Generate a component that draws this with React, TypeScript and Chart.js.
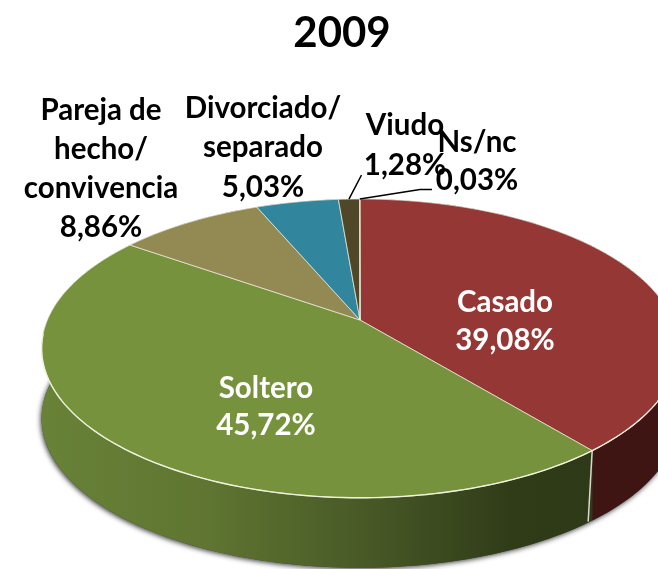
import React, { useEffect, useRef } from "react";
import { Chart, registerables } from "chart.js";

Chart.register(...registerables);

const categories = ["Casado", "Soltero", "Pareja de hecho/ convivencia", "Divorciado/ separado", "Viudo", "Ns/nc"];
const shares = [39.08, 45.72, 8.86, 5.03, 1.28, 0.03];
const topColors = ["#953735", "#76923c", "#938953", "#31859c", "#4f4728", "#4f4728"];
const labelLines = [["Casado"], ["Soltero"], ["Pareja de", "hecho/", "convivencia"], ["Divorciado/", "separado"], ["Viudo"], ["Ns/nc"]];
const labelColors = ["#ffffff", "#ffffff", "#000000", "#000000", "#000000", "#000000"];
const labelCenters = [[505, 302], [266, 388], [101, 110], [263, 108], [405, 125], [477, 142]];
const labelLineGap = [38, 37, 39, 39.5, 40, 38];
const FONT = "Lato, Carlito, 'Open Sans', sans-serif";

const CX = 360, CY = 320, RX = 312.6, RY = 144, K = 0.19, DEPTH = 70;

function proj(angle: number, r = 1): [number, number] {
  const u = Math.cos(angle) * r;
  const v = Math.sin(angle) * r;
  const w = 1 - K * v;
  return [CX + (RX * u) / w, CY + (RY * v) / w];
}

function samples(a0: number, a1: number): number[] {
  const n = Math.max(1, Math.ceil((a1 - a0) / 0.02));
  const out: number[] = [];
  for (let i = 0; i <= n; i++) out.push(a0 + ((a1 - a0) * i) / n);
  return out;
}

const pie3d = {
  id: "pie3d",
  beforeDatasetsDraw(chart: any) {
    const ctx: CanvasRenderingContext2D = chart.ctx;
    const arcs = chart.getDatasetMeta(0).data as any[];

    // soft shadow under the base
    ctx.save();
    ctx.shadowColor = "rgba(60,60,60,0.95)";
    ctx.shadowBlur = 5;
    ctx.shadowOffsetX = -1;
    ctx.shadowOffsetY = 1.5;
    ctx.fillStyle = "#444";
    ctx.beginPath();
    samples(0, Math.PI * 2).forEach((a, i) => {
      const [x, y] = proj(a);
      if (i === 0) ctx.moveTo(x, y + DEPTH);
      else ctx.lineTo(x, y + DEPTH);
    });
    ctx.closePath();
    ctx.fill();
    ctx.restore();

    // side walls
    arcs.forEach((arc, idx) => {
      const pts = samples(arc.startAngle, arc.endAngle);
      let fill: any = "#2a2a1a";
      if (idx === 0) fill = "#3f1514";
      if (idx === 1) {
        const g = ctx.createLinearGradient(42, 0, 592, 0);
        g.addColorStop(0, "#688237");
        g.addColorStop(0.3, "#5f7531");
        g.addColorStop(0.6, "#475826");
        g.addColorStop(0.85, "#303c18");
        g.addColorStop(1, "#2e3917");
        fill = g;
      }
      ctx.fillStyle = fill;
      ctx.beginPath();
      pts.forEach((a, i) => {
        const [x, y] = proj(a);
        if (i === 0) ctx.moveTo(x, y);
        else ctx.lineTo(x, y);
      });
      [...pts].reverse().forEach((a) => {
        const [x, y] = proj(a);
        ctx.lineTo(x, y + DEPTH);
      });
      ctx.closePath();
      ctx.fill();
    });

    // seam on the wall between the two front slices
    const seam = proj(arcs[0].endAngle);
    ctx.strokeStyle = "#d8d8cc";
    ctx.lineWidth = 1.5;
    ctx.beginPath();
    ctx.moveTo(seam[0], seam[1]);
    ctx.lineTo(seam[0] - 4, seam[1] + DEPTH + 1);
    ctx.stroke();

    // top faces
    arcs.forEach((arc, idx) => {
      ctx.fillStyle = topColors[idx];
      ctx.strokeStyle = "rgba(238,240,225,0.75)";
      ctx.lineWidth = 1;
      ctx.lineJoin = "round";
      ctx.beginPath();
      ctx.moveTo(CX, CY);
      samples(arc.startAngle, arc.endAngle).forEach((a) => {
        const [x, y] = proj(a);
        ctx.lineTo(x, y);
      });
      ctx.closePath();
      ctx.fill();
      ctx.stroke();
    });

    // bright front rim
    ctx.strokeStyle = "#eef2dc";
    ctx.lineWidth = 1.4;
    ctx.beginPath();
    samples(Math.PI * 0.02, Math.PI * 0.97).forEach((a, i) => {
      const [x, y] = proj(a);
      if (i === 0) ctx.moveTo(x, y);
      else ctx.lineTo(x, y);
    });
    ctx.stroke();

    // leader lines
    const viudoMid = proj((arcs[4].startAngle + arcs[4].endAngle) / 2);
    const nsMid = proj((arcs[5].startAngle + arcs[5].endAngle) / 2);
    ctx.strokeStyle = "#000";
    ctx.lineWidth = 1.5;
    ctx.beginPath();
    ctx.moveTo(viudoMid[0], viudoMid[1]);
    ctx.lineTo(361.5, 175);
    ctx.moveTo(nsMid[0], nsMid[1]);
    ctx.lineTo(420, 189.5);
    ctx.lineTo(432, 189.5);
    ctx.stroke();

    // labels
    ctx.font = `bold 29.5px ${FONT}`;
    ctx.textAlign = "center";
    ctx.textBaseline = "middle";
    categories.forEach((_, idx) => {
      const lines = [...labelLines[idx], shares[idx].toFixed(2).replace(".", ",") + "%"];
      ctx.fillStyle = labelColors[idx];
      lines.forEach((t, i) => {
        ctx.fillText(t, labelCenters[idx][0], labelCenters[idx][1] + i * labelLineGap[idx]);
      });
    });
    return false;
  },
};

export default function App() {
  const ref = useRef<HTMLCanvasElement | null>(null);
  useEffect(() => {
    if (!ref.current) return;
    const chart = new Chart(ref.current, {
      type: "pie",
      data: { labels: categories, datasets: [{ data: shares, backgroundColor: topColors, borderWidth: 0 }] },
      options: {
        responsive: false,
        animation: false,
        layout: { padding: { left: 26, top: 8 } },
        plugins: {
          legend: { display: false },
          tooltip: { enabled: false },
          title: {
            display: true,
            text: "2009",
            color: "#000",
            font: { family: FONT, size: 42, weight: "bold" },
            padding: { top: 0, bottom: 0 },
          },
        },
      },
      plugins: [pie3d],
    } as any);
    return () => chart.destroy();
  }, []);
  return (
    <canvas
      ref={ref}
      width={658}
      height={569}
      style={{ position: "absolute", left: 0, top: 0, display: "block", width: 658, height: 569 }}
    />
  );
}
